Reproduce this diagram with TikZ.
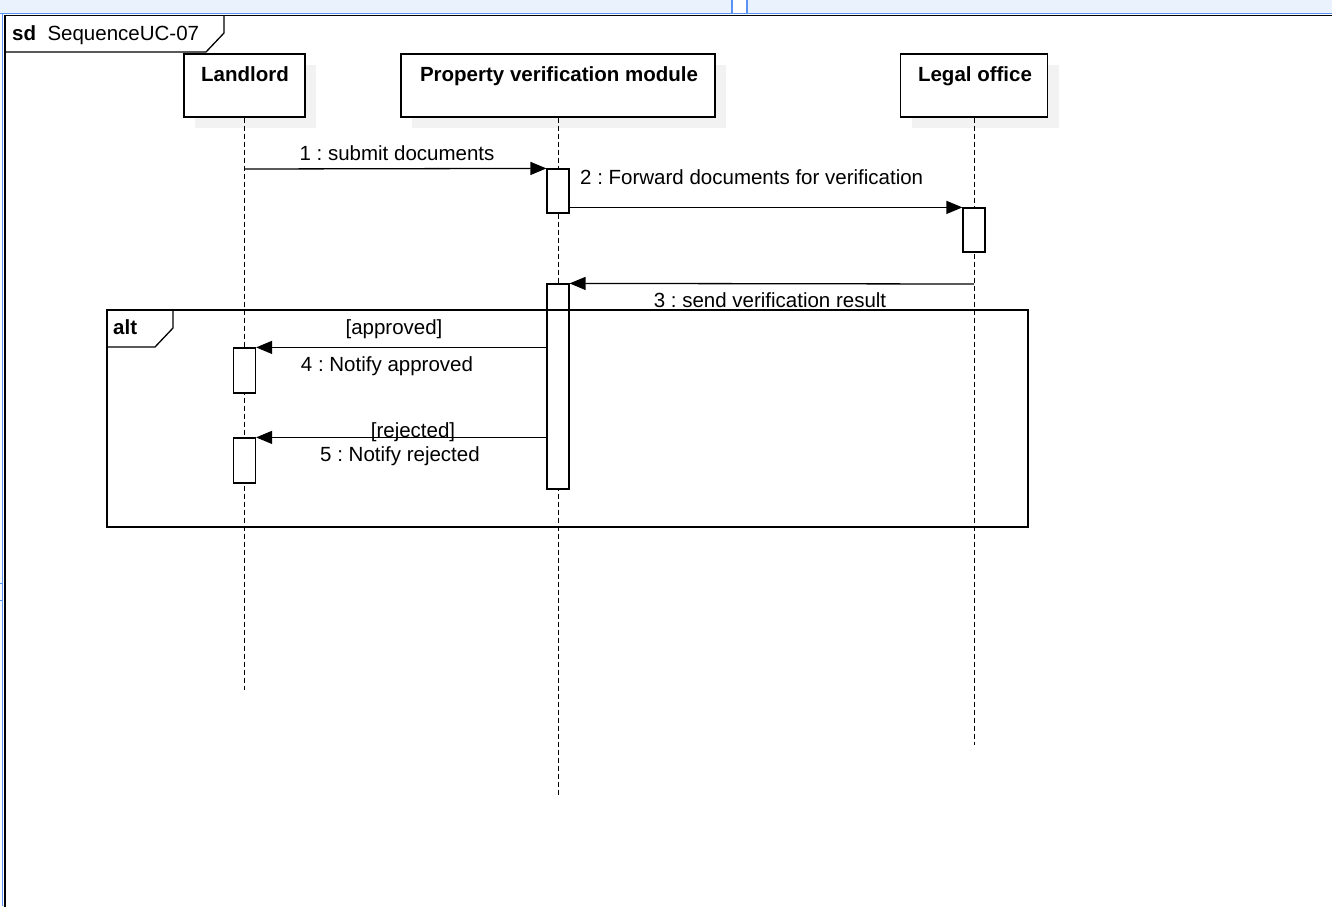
\documentclass[tikz,border=0pt]{standalone}
\usepackage{fontspec}
\setmainfont{Liberation Sans}
\usetikzlibrary{arrows.meta}
\definecolor{stripblue}{HTML}{EAF2FD}
\definecolor{lineblue}{HTML}{5B93F5}
\definecolor{shadowgray}{HTML}{F2F2F2}
\frenchspacing
\begin{document}
\begin{tikzpicture}[x=1pt,y=-1pt,
  font=\fontsize{20.5}{24}\selectfont,
  head/.style={draw, line width=1.2pt, fill=white, minimum width=#1, minimum height=63pt, inner sep=0pt},
  shade/.style={fill=shadowgray, minimum width=#1, minimum height=63pt, inner sep=0pt},
  headtxt/.style={inner sep=0pt, anchor=base, font=\fontsize{20.5}{24}\selectfont\bfseries},
  act/.style={draw, fill=white, line width=1.2pt, minimum width=22pt, minimum height=#1, inner sep=0pt},
  lbl/.style={inner sep=0pt, anchor=base},
  msg/.style={line width=1.3pt, -{Triangle[length=16pt,width=13pt]}},
  life/.style={line width=1pt, dash pattern=on 5pt off 3pt},
  frame/.style={line width=1.3pt}
]
\useasboundingbox (0,0) rectangle (1332,906);
\clip (0,0) rectangle (1332,906);
\fill[white] (0,0) rectangle (1332,906);

% top strip and window edges
\fill[stripblue] (0,0) rectangle (1332,13);
\fill[white] (732,0) rectangle (747,13);
\draw[lineblue, line width=1.2pt] (0,13.5) -- (1332,13.5);
\draw[lineblue, line width=1.2pt] (732,0) -- (732,13.5) (747,0) -- (747,13.5);
\draw[lineblue, line width=1.5pt] (2.5,13) -- (2.5,906);
\draw[lineblue, line width=1pt] (0,583) -- (3,583) (0,600) -- (3,600);

% sd frame
\draw[frame] (1340,15.5) -- (5,15.5) -- (5,910);
\draw[frame] (5,52) -- (206,52) -- (224,33) -- (224,15.5);
\node[lbl, anchor=base west] (sdlbl) at (12,40.5) {\textbf{sd}\ \ SequenceUC-07};

% shadows
\node[shade=121pt] (sL) at (255.5,96.5) {};
\node[shade=314pt] (sP) at (569,96.5) {};
\node[shade=147pt] (sG) at (985,96.5) {};

% lifeline heads
\node[head=121pt] (hL) at (244.5,85.5) {};
\node[head=314pt] (hP) at (558,85.5) {};
\node[head=147pt] (hG) at (974,85.5) {};
\node[headtxt] (tL) at (245,81) {Landlord};
\node[headtxt] (tP) at (559,81) {Property verification module};
\node[headtxt] (tG) at (975,81) {Legal office};

% lifelines
\coordinate (eL) at (244.5,690);
\coordinate (eP) at (558,795);
\coordinate (eG) at (974,745);
\draw[life] (hL.south) -- (eL);
\draw[life] (hP.south) -- (eP);
\draw[life] (hG.south) -- (eG);

% activations
\node[act=44pt] (a1) at (558,191) {};
\node[act=44pt] (a2) at (974,230) {};
\node[act=205pt] (a3) at (558,386.5) {};
\node[act=45pt] (a4) at (244.5,370.5) {};
\node[act=45pt] (a5) at (244.5,460.5) {};

% messages
\coordinate (m1s) at (244.5,169);
\draw[msg] (m1s) -- (a1.north west);
\draw[msg] (a1.east |- a2.north) -- (a2.north west);
\coordinate (m3s) at (974,284);
\draw[msg] (m3s) -- (a3.north east);
\draw[msg] (a3.west |- a4.north) -- (a4.north east);
\draw[msg] (a3.west |- a5.north) -- (a5.north east);

% message labels
\node[lbl] (l1) at (397,160) {1 : submit documents};
\node[lbl, anchor=base west] (l2) at (580,184) {2 : Forward documents for verification};
\node[lbl] (l3) at (770,307) {3 : send verification result};
\node[lbl] (g4) at (394,334) {[approved]};
\node[lbl] (l4) at (387,371) {4 : Notify approved};
\node[lbl] (g5) at (413,437) {[rejected]};
\node[lbl] (l5) at (400,461) {5 : Notify rejected};

% alt fragment
\draw[frame] (107,310) rectangle (1028,527);
\draw[frame] (107,347) -- (155,347) -- (173,328) -- (173,310);
\node[lbl, anchor=base west, font=\fontsize{20.5}{24}\selectfont\bfseries] (altl) at (113,334) {alt};
\end{tikzpicture}
\end{document}
